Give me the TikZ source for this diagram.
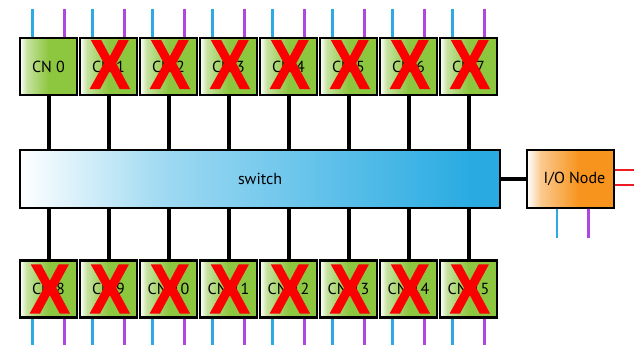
\documentclass[tikz,border=0pt]{standalone}
\usepackage{fontspec}
\setmainfont{PT Sans}
\newfontfamily\crossfont[BoldFeatures={FakeBold=2}]{Liberation Sans}
\usetikzlibrary{positioning}
\definecolor{cngreen}{RGB}{141,198,63}
\definecolor{swblue}{RGB}{41,171,226}
\definecolor{ioorange}{RGB}{247,148,29}
\definecolor{netblue}{RGB}{45,170,225}
\definecolor{netpurple}{RGB}{175,70,225}
\definecolor{netred}{RGB}{237,28,36}
\definecolor{deadred}{RGB}{250,0,0}
\pgfdeclarehorizontalshading{cnshade}{100bp}{color(0bp)=(white); color(25bp)=(white); color(31bp)=(cngreen!50!white); color(50bp)=(cngreen); color(100bp)=(cngreen)}
\pgfdeclarehorizontalshading{ioshade}{100bp}{color(0bp)=(white); color(25bp)=(white); color(33bp)=(ioorange!50!white); color(55bp)=(ioorange); color(100bp)=(ioorange)}
\pgfdeclarehorizontalshading{swshade}{100bp}{color(0bp)=(white); color(25bp)=(white); color(40bp)=(swblue!45!white); color(72bp)=(swblue); color(100bp)=(swblue)}
\tikzset{
  cnbox/.style={draw=black,line width=2pt,shading=cnshade,minimum width=42.75pt,minimum height=42.75pt,inner sep=0pt,font=\fontsize{12}{12}\selectfont},
  dead/.style={text=deadred,inner sep=0pt,xscale=0.85,transform shape,font=\crossfont\bfseries\fontsize{52}{52}\selectfont},
  link/.style={line width=3pt},
  wire/.style={line width=1.7pt}
}

\begin{document}
\begin{tikzpicture}[x=0.75pt,y=-0.75pt]
  \useasboundingbox (0,0) rectangle (634,344);
  % switch and I/O node
  \node[draw=black,line width=2pt,shading=swshade,minimum width=360pt,minimum height=43.5pt,font=\fontsize{12}{12}\selectfont] (switch) at (260,179) {switch};
  \node[draw=black,line width=2pt,shading=ioshade,minimum width=65.25pt,minimum height=43.5pt,font=\fontsize{12}{12}\selectfont] (io) at (570.5,179) {\hspace{6pt}I/O Node};
  \draw[link] (switch) -- (io);
  \draw[wire,netblue] ([xshift=-10pt]io.south) -- ++(0,29);
  \draw[wire,netpurple] ([xshift=13.5pt]io.south) -- ++(0,29);
  \draw[wire,netred,line width=2.2pt] ([yshift=6.75pt]io.east) -- ++(20,0);
  \draw[wire,netred,line width=2.2pt] ([yshift=-4.5pt]io.east) -- ++(20,0);
  % compute nodes
  \foreach \i in {0,...,7}{
    \pgfmathtruncatemacro{\j}{\i+8}
    \node[cnbox] (cn\i) at ({48.5+60*\i},66.5) {CN \i};
    \node[cnbox] (cn\j) at ({48.5+60*\i},289) {CN \j};
    \draw[link] (cn\i) -- (cn\i |- switch.north);
    \draw[link] (cn\j) -- (cn\j |- switch.south);
    \draw[wire,netblue] ([xshift=-12pt]cn\i.north) -- ++(0,-28);
    \draw[wire,netpurple] ([xshift=12pt]cn\i.north) -- ++(0,-28);
    \draw[wire,netblue] ([xshift=-12pt]cn\j.south) -- ++(0,27);
    \draw[wire,netpurple] ([xshift=12pt]cn\j.south) -- ++(0,27);
    \node[dead] (x\j) at ([xshift=1pt]cn\j) {X};
  }
  \foreach \i in {1,...,7}
    \node[dead] (x\i) at ([xshift=1pt,yshift=1.5pt]cn\i) {X};
\end{tikzpicture}
\end{document}
